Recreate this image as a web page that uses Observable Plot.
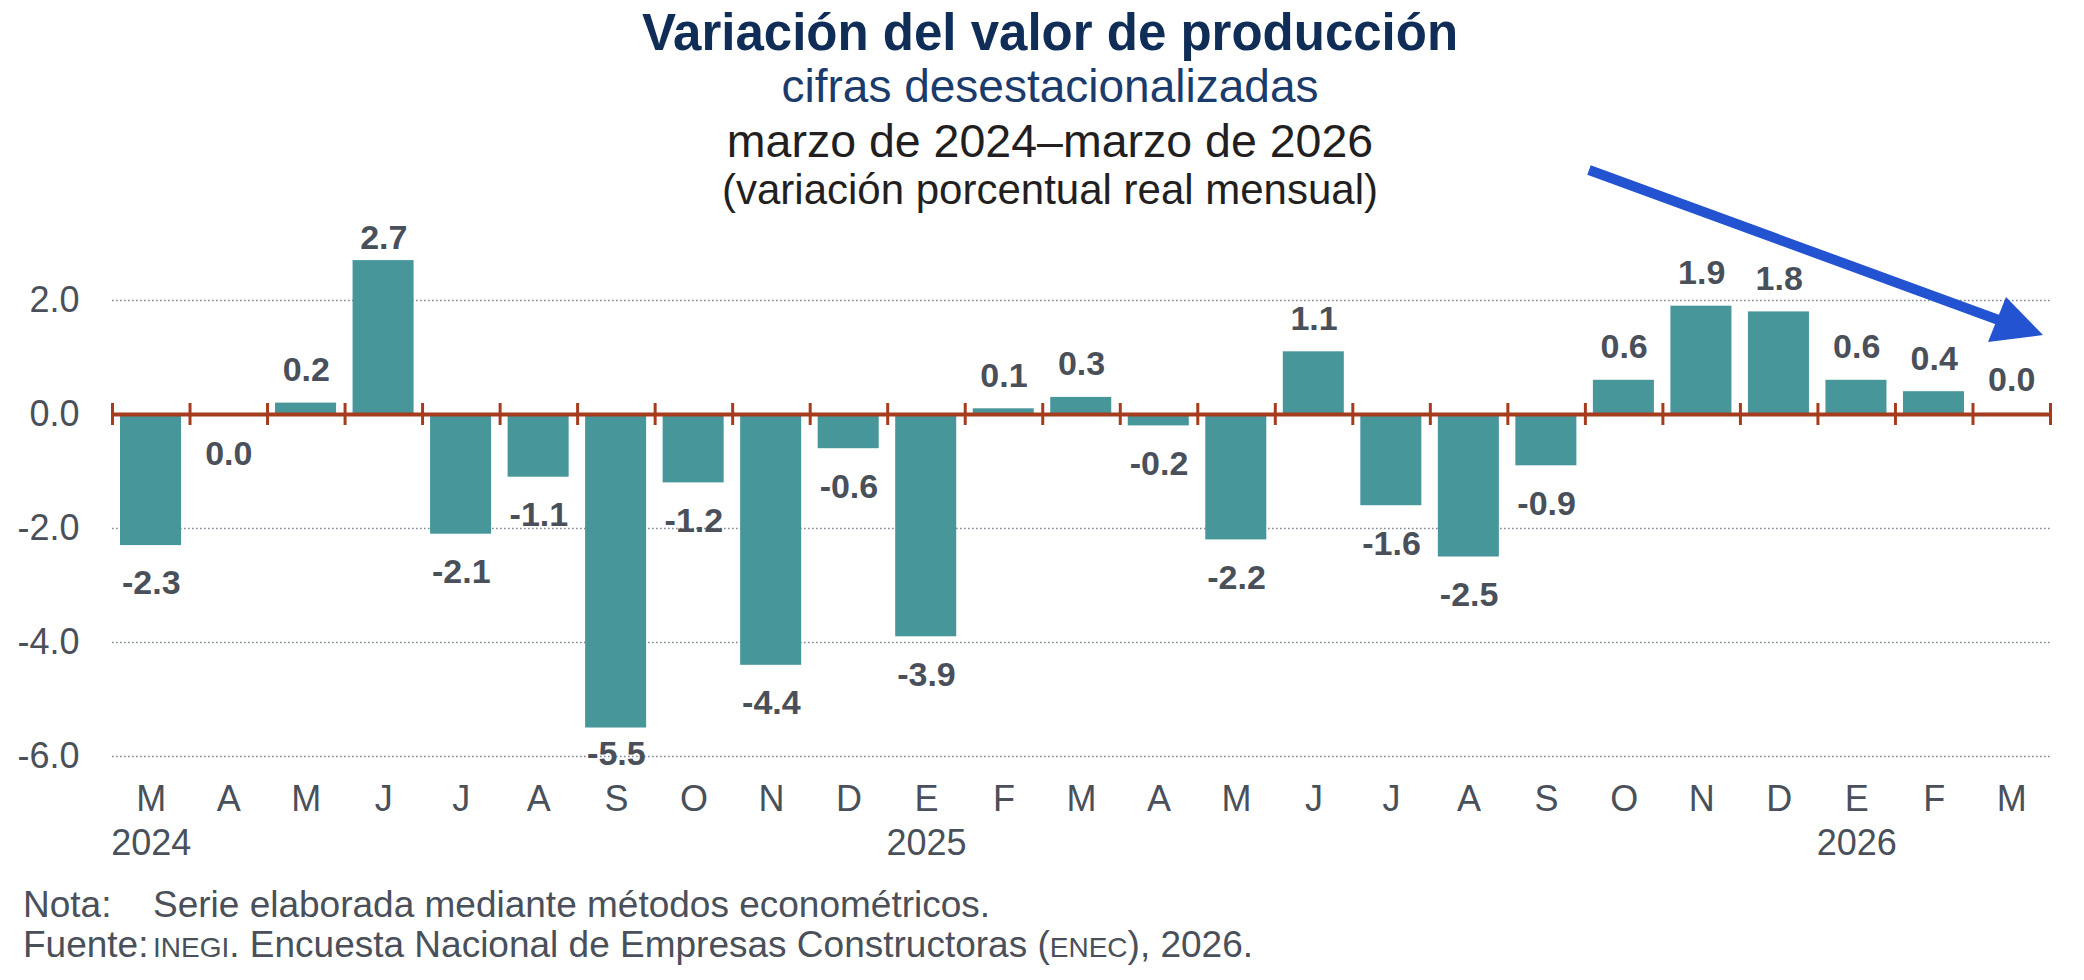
<!DOCTYPE html>
<html>
<head>
<meta charset="utf-8">
<script src="https://cdn.jsdelivr.net/npm/d3@7"></script>
<script src="https://cdn.jsdelivr.net/npm/@observablehq/plot@0.6"></script>
<style>
  body { margin: 0; background: #fff; font-family: "Liberation Sans", Arial, Helvetica, sans-serif; }
  #page { position: relative; width: 2084px; height: 980px; overflow: hidden; background: #fff; }
  .t { position: absolute; left: 0; width: 2100px; text-align: center; white-space: nowrap; }
  .n { position: absolute; left: 0; width: 2084px; font-size: 37px; line-height: 37px; color: #4a505a; white-space: nowrap; }
  .n span.a { position: absolute; left: 23px; }
  .n span.b { position: absolute; left: 153px; }
  .sc { font-size: 28px; }
  #chart { position: absolute; left: 0; top: 220px; }
  #arrow { position: absolute; left: 0; top: 0; pointer-events: none; }
</style>
</head>
<body>
<div id="page">
  <div class="t" style="top:7px;font-size:51px;line-height:51px;font-weight:bold;color:#0f2d57;">Variación del valor de producción</div>
  <div class="t" style="top:63px;font-size:46px;line-height:46px;color:#1b3b6c;">cifras desestacionalizadas</div>
  <div class="t" style="top:118px;font-size:46.5px;line-height:46.5px;color:#231f20;">marzo de 2024–marzo de 2026</div>
  <div class="t" style="top:169px;font-size:42px;line-height:42px;color:#231f20;">(variación porcentual real mensual)</div>
  <div id="chart"></div>
  <svg id="arrow" width="2084" height="980" viewBox="0 0 2084 980">
    <line x1="1589" y1="170" x2="2000" y2="320.5" stroke="#2453d1" stroke-width="10" stroke-linecap="butt"/>
    <polygon points="2043,335 2006,297 1988,342" fill="#2453d1"/>
  </svg>
  <div class="n" style="top:886px;"><span class="a">Nota:</span><span class="b">Serie elaborada mediante métodos econométricos.</span></div>
  <div class="n" style="top:926px;"><span class="a">Fuente:</span><span class="b"><span class="sc">INEGI</span>. Encuesta Nacional de Empresas Constructoras (<span class="sc">ENEC</span>), 2026.</span></div>
</div>
<script>
// Data: monthly real percentage change, seasonally adjusted, March 2024 – March 2026
const months = ["M","A","M","J","J","A","S","O","N","D","E","F","M","A","M","J","J","A","S","O","N","D","E","F","M"];
const values = [-2.3, -0.02, 0.2, 2.7, -2.1, -1.1, -5.5, -1.2, -4.4, -0.6, -3.9, 0.1, 0.3, -0.2, -2.2, 1.1, -1.6, -2.5, -0.9, 0.6, 1.9, 1.8, 0.6, 0.4, 0.02];
const years = ["2024", "2025", "2026"];
const yearIndex = [0, 10, 22];
const yTicks = [2, 0, -2, -4, -6];
const gridTicks = [2, -2, -4, -6];

const data = values.map((v, i) => ({i, month: months[i], value: v}));
const fmt = v => { const r = Math.round(v * 10) / 10; return (r === 0 ? 0 : r).toFixed(1); };

const teal = "#46969a";
const rust = "#a63c1e";
const ink = "#4a505a";
const pxPerUnit = 57;
const tickHalf = 11 / pxPerUnit;              // half tick length in y units
const labelUp = 33 / pxPerUnit, labelDown = 38 / pxPerUnit;
const labelTop = 3.09, labelBottom = -5.95;   // labels kept inside the plot area
const labelY = d => d.value >= 0 ? Math.min(d.value + labelUp, labelTop) : Math.max(d.value - labelDown, labelBottom);

const chart = Plot.plot({
  width: 2084,
  height: 650,
  marginLeft: 112,
  marginRight: 34,
  marginTop: 23,
  marginBottom: 91.2,
  x: {domain: [0, 25], axis: null},
  y: {domain: [-6.4, 3], axis: null},
  style: {fontFamily: '"Liberation Sans", Arial, Helvetica, sans-serif', color: ink, background: "transparent", overflow: "visible"},
  marks: [
    Plot.gridY(gridTicks, {stroke: "#7f8993", strokeOpacity: 1, strokeWidth: 1.6, strokeDasharray: "1.6,2.4"}),
    Plot.rectY(data, {x1: "i", x2: d => d.i + 1, y: "value", insetLeft: 8, insetRight: 8.5, fill: teal}),
    Plot.ruleY([0], {stroke: rust, strokeWidth: 4}),
    Plot.ruleX(d3.range(months.length + 1), {x: d => d, y1: -tickHalf, y2: tickHalf, stroke: rust, strokeWidth: 3}),
    Plot.text(data, {x: d => d.i + 0.5, y: labelY, text: d => fmt(d.value), fontSize: 34, fontWeight: "bold", fill: ink}),
    Plot.axisY({ticks: yTicks, tickFormat: d => d.toFixed(1), tickSize: 0, tickPadding: 33, fontSize: 36, fill: ink, label: null}),
    Plot.axisX({ticks: months.map((m, i) => i + 0.5), tickFormat: d => months[Math.floor(d)], tickSize: 0, tickPadding: 6, fontSize: 36, fill: ink, label: null}),
    Plot.axisX({ticks: yearIndex.map(i => i + 0.5), tickFormat: d => years[yearIndex.indexOf(Math.floor(d))], tickSize: 0, tickPadding: 50, fontSize: 36, fill: ink, label: null})
  ]
});
document.getElementById("chart").appendChild(chart);
</script>
</body>
</html>
